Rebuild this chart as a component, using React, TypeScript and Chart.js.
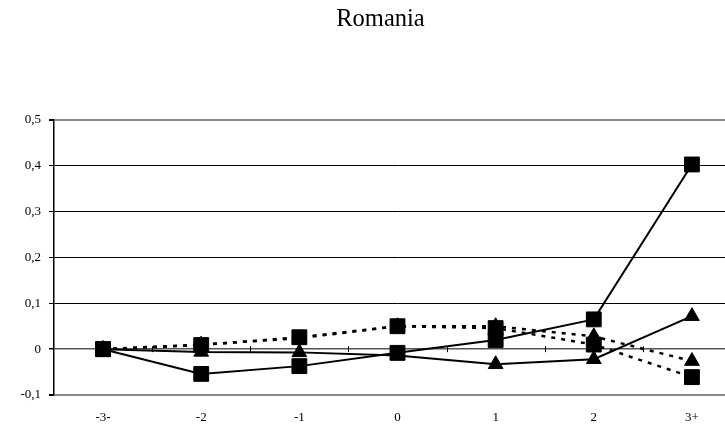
import React, { useEffect, useRef } from "react";
import { Chart, registerables } from "chart.js";

Chart.register(...registerables);

const title = "Romania";
const categories = ["-3-", "-2", "-1", "0", "1", "2", "3+"];
const yTickLabels = ["-0,1", "0", "0,1", "0,2", "0,3", "0,4", "0,5"];

const solidSquares = [0, -0.054, -0.037, -0.008, 0.02, 0.065, 0.403];
const solidTriangles = [0, -0.006, -0.007, -0.014, -0.033, -0.022, 0.072];
const dottedSquares = [0, 0.009, 0.026, 0.05, 0.046, 0.01, -0.061];
const dottedTriangles = [0, 0.01, 0.024, 0.05, 0.05, 0.028, -0.026];

const FONT = "'Liberation Serif', 'Times New Roman', serif";

const zeroAxisTicks = {
  id: "zeroAxisTicks",
  beforeDatasetsDraw(chart: any) {
    const x = chart.scales.x;
    const y = chart.scales.y;
    const ctx = chart.ctx;
    const y0 = y.getPixelForValue(0);
    ctx.save();
    ctx.strokeStyle = "#000";
    ctx.lineWidth = 1;
    for (let i = 0; i < categories.length - 1; i++) {
      const xm = (x.getPixelForTick(i) + x.getPixelForTick(i + 1)) / 2;
      ctx.beginPath();
      ctx.moveTo(Math.round(xm) + 0.5, y0 - 3);
      ctx.lineTo(Math.round(xm) + 0.5, y0 + 3);
      ctx.stroke();
    }
    ctx.restore();
  },
};

export default function App() {
  const ref = useRef<HTMLCanvasElement | null>(null);
  useEffect(() => {
    if (!ref.current) return;
    const common = {
      borderColor: "#000",
      backgroundColor: "#000",
      pointBackgroundColor: "#000",
      pointBorderColor: "#000",
      pointBorderWidth: 1,
      tension: 0,
      fill: false,
    };
    const chart = new Chart(ref.current, {
      type: "line",
      data: {
        labels: categories,
        datasets: [
          { ...common, label: "A", data: dottedSquares, borderWidth: 2.5, borderDash: [4, 6], pointStyle: "rect", pointRadius: 10.5 },
          { ...common, label: "B", data: dottedTriangles, borderWidth: 2.5, borderDash: [4, 6], pointStyle: "triangle", pointRadius: 8.5 },
          { ...common, label: "C", data: solidTriangles, borderWidth: 2, pointStyle: "triangle", pointRadius: 8.5 },
          { ...common, label: "D", data: solidSquares, borderWidth: 2, pointStyle: "rect", pointRadius: 10.5 },
        ],
      },
      options: {
        animation: false,
        responsive: false,
        devicePixelRatio: 1,
        layout: { padding: { left: 20, right: 19, top: 0, bottom: 0 } },
        plugins: {
          legend: { display: false },
          tooltip: { enabled: false },
          title: {
            display: true,
            text: title,
            color: "#000",
            font: { family: FONT, size: 24.5, weight: "normal", lineHeight: 1.2 },
            padding: { top: 5, bottom: 85.6 },
          },
        },
        scales: {
          x: {
            type: "category",
            offset: true,
            grid: { display: false, drawTicks: false },
            border: { display: false },
            ticks: { color: "#000", font: { family: FONT, size: 13 }, padding: 15, maxRotation: 0, autoSkip: false },
            afterFit: (s: any) => { s.height = 34; },
          },
          y: {
            min: -0.1,
            max: 0.5,
            ticks: {
              stepSize: 0.1,
              color: "#000",
              font: { family: FONT, size: 13 },
              padding: 8,
              callback: (_v: any, i: number) => yTickLabels[i],
            },
            grid: {
              color: (c: any) => {
                const v = Math.round(c.tick.value * 10);
                return v === 5 || v === -1 ? "#8a8a8a" : v === 0 ? "#555" : "#000";
              },
              lineWidth: (c: any) => {
                const v = Math.round(c.tick.value * 10);
                return v === 5 || v === -1 ? 2 : v === 0 ? 1.5 : 1;
              },
              tickColor: "#000",
              tickLength: 5,
            },
            border: { display: true, color: "#000", width: 1.5 },
            afterFit: (s: any) => { s.width = 34; },
          },
        },
      },
      plugins: [zeroAxisTicks],
    } as any);
    return () => chart.destroy();
  }, []);
  return (
    <div style={{ position: "fixed", left: 0, top: 0, width: 725, height: 429, overflow: "hidden", background: "#fff" }}>
      <canvas ref={ref} width={760} height={429} style={{ width: 760, height: 429, display: "block" }} />
    </div>
  );
}
